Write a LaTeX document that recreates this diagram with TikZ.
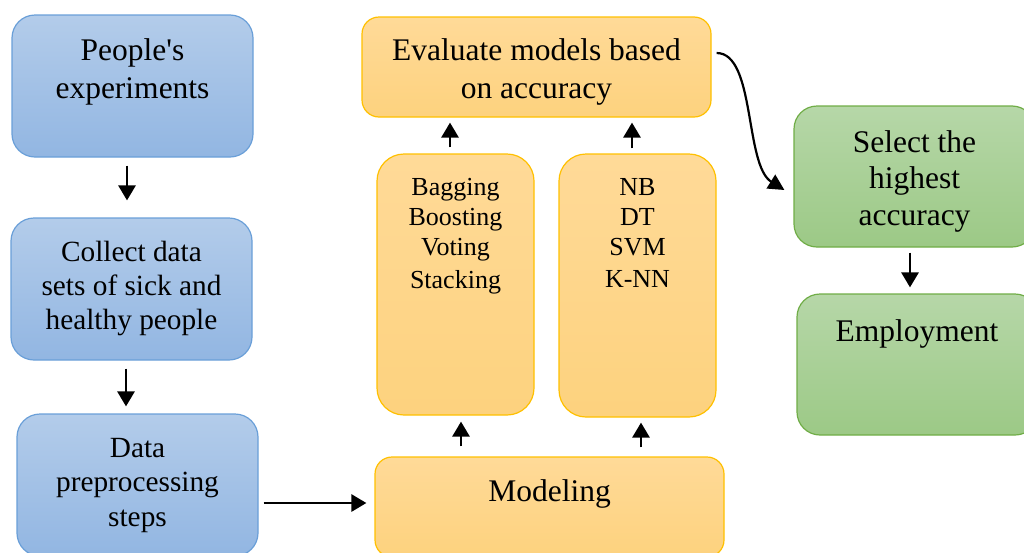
\documentclass[tikz,border=0pt]{standalone}
\usepackage{fontspec}
\setmainfont{Liberation Serif}
\usetikzlibrary{arrows.meta,calc}

\definecolor{blueTop}{HTML}{B3CCEA}
\definecolor{blueBot}{HTML}{92B6E2}
\definecolor{blueLine}{HTML}{6A9FD8}
\definecolor{orTop}{HTML}{FFDA98}
\definecolor{orBot}{HTML}{FDD27E}
\definecolor{orLine}{HTML}{FFC000}
\definecolor{grTop}{HTML}{B6D7A8}
\definecolor{grBot}{HTML}{9CC986}
\definecolor{grLine}{HTML}{70AD47}

\tikzset{
  boxbase/.style={draw, line width=1.2pt, inner sep=0pt},
  bluebox/.style={boxbase, draw=blueLine, top color=blueTop, bottom color=blueBot},
  orbox/.style={boxbase, draw=orLine, top color=orTop, bottom color=orBot},
  grbox/.style={boxbase, draw=grLine, top color=grTop, bottom color=grBot},
  lbl/.style={align=center, anchor=base, inner sep=0pt, text=black},
  bigtxt/.style={lbl, font=\fontsize{31.5}{38}\selectfont},
  midtxt/.style={lbl, font=\fontsize{29.3}{34}\selectfont},
  smalltxt/.style={lbl, font=\fontsize{26}{30}\selectfont},
  arr/.style={line width=2.8pt, -{Triangle[width=17pt,length=15pt]}},
  curvearr/.style={line width=2.2pt, -{Triangle[width=16pt,length=16pt]}}
}

\begin{document}
\begin{tikzpicture}[x=1pt,y=1pt]
\path[use as bounding box] (0,0) rectangle (1024,-552);
\clip (0,0) rectangle (1024,-552);

% left column
\node[bluebox, rounded corners=23pt, minimum width=241pt, minimum height=142pt] (b1) at (132.5,-86) {};
\node[bluebox, rounded corners=23pt, minimum width=241pt, minimum height=142pt] (b2) at (131.5,-289) {};
\node[bluebox, rounded corners=23pt, minimum width=241pt, minimum height=142pt] (b3) at (137.5,-485) {};
% text nodes are anchored at the baseline of their last line
\node[bigtxt] (t1) at (132.5,-98) {People\textquotesingle s\\experiments};
\node[midtxt] (t2) at (131.5,-329) {Collect data\\sets of sick and\\healthy people};
\node[midtxt, font=\fontsize{29.3}{34.5}\selectfont] (t3) at (137.5,-526) {Data\\preprocessing\\steps};

% middle column
\node[orbox, rounded corners=17pt, minimum width=349pt, minimum height=100pt] (ev) at (536.5,-67) {};
\node[orbox, rounded corners=27pt, minimum width=157pt, minimum height=261pt] (bag) at (455.5,-284.5) {};
\node[orbox, rounded corners=27pt, minimum width=157pt, minimum height=263pt] (nb) at (637.5,-285.5) {};
\node[orbox, rounded corners=17pt, minimum width=349pt, minimum height=100pt] (mod) at (549.5,-507) {};
\node[bigtxt] (tev) at (536.5,-98) {Evaluate models based\\on accuracy};
\node[smalltxt] (tbag) at (455.5,-288) {Bagging\\Boosting\\Voting\\[3pt]Stacking};
\node[smalltxt] (tnb) at (637.5,-287) {NB\\DT\\SVM\\[2pt]K-NN};
\node[bigtxt] (tmod) at (549.5,-501) {Modeling};

% right column
\node[grbox, rounded corners=23pt, minimum width=241pt, minimum height=141pt] (sel) at (914.5,-176.5) {};
\node[grbox, rounded corners=23pt, minimum width=241pt, minimum height=141pt] (emp) at (917.5,-364.5) {};
\node[bigtxt, font=\fontsize{31.5}{36.5}\selectfont] (tsel) at (914.5,-225) {Select the\\highest\\accuracy};
\node[bigtxt] (temp) at (917,-341) {Employment};

% connectors
\draw[arr, shorten <=8pt, shorten >=17pt] ([xshift=-5.5pt]b1.south) -- ([xshift=-4.5pt]b2.north);
\draw[arr, shorten <=8pt, shorten >=7pt] ([xshift=-5.5pt]b2.south) -- ([xshift=-11.5pt]b3.north);
\draw[arr, shorten <=5pt, shorten >=8pt] ([yshift=-18pt]b3.east) -- ([yshift=4pt]mod.west);
\draw[arr, shorten <=10pt, shorten >=6pt] ([xshift=-88.5pt]mod.north) -- ([xshift=5.5pt]bag.south);
\draw[arr, shorten <=9pt, shorten >=5pt] ([xshift=91.5pt]mod.north) -- ([xshift=3.5pt]nb.south);
\draw[arr, shorten <=6pt, shorten >=5pt] ([xshift=-5.5pt]bag.north) -- ([xshift=-86.5pt]ev.south);
\draw[arr, shorten <=5pt, shorten >=5pt] ([xshift=-5.5pt]nb.north) -- ([xshift=95.5pt]ev.south);
\draw[arr, shorten <=5pt, shorten >=6pt] ([xshift=-4.5pt]sel.south) -- ([xshift=-7.5pt]emp.north);
\draw[curvearr] ([xshift=5pt,yshift=14pt]ev.east)
  .. controls ($(ev.east)+(44,14)$) and ($(sel.west)+(-49,11.5)$)
  .. ([xshift=-9pt,yshift=-13.5pt]sel.west);
\end{tikzpicture}
\end{document}
